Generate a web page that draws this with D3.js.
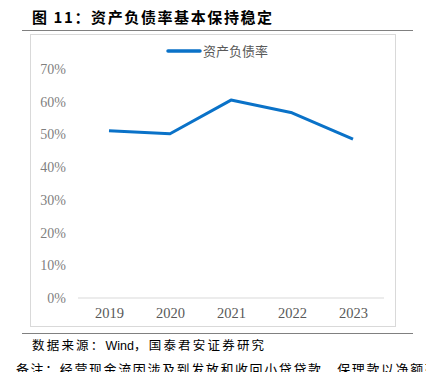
<!DOCTYPE html>
<html>
<head>
<meta charset="utf-8">
<script src="https://cdn.jsdelivr.net/npm/d3@7"></script>
<style>
  body { margin: 0; background: #fff; }
  svg { display: block; }
</style>
</head>
<body>
<script>
// data
var years = ["2019", "2020", "2021", "2022", "2023"];
var debtRatio = [0.511, 0.502, 0.605, 0.566, 0.486];
var yTicks = [0, 0.1, 0.2, 0.3, 0.4, 0.5, 0.6, 0.7];
var seriesName = "资产负债率";

var W = 426, H = 372;
var serif = "'Liberation Serif'";
var cjk = "'Noto Sans CJK SC'";

var svg = d3.select("body").append("svg")
  .attr("width", W)
  .attr("height", H);

// title
svg.append("text")
  .attr("x", 32)
  .attr("y", 23)
  .style("font-family", cjk)
  .style("font-weight", "bold")
  .style("font-size", "15px")
  .style("letter-spacing", "1.6px")
  .attr("fill", "#000")
  .text("图 11：资产负债率基本保持稳定");

svg.append("line")
  .attr("x1", 22).attr("x2", 413)
  .attr("y1", 30.5).attr("y2", 30.5)
  .attr("stroke", "#808080").attr("stroke-width", 1);

// chart frame
svg.append("rect")
  .attr("x", 30.5).attr("y", 34.5)
  .attr("width", 365).attr("height", 292)
  .attr("fill", "none")
  .attr("stroke", "#d9d9d9");

// scales
var x = d3.scalePoint()
  .domain(years)
  .range([109, 353]);

var y = d3.scaleLinear()
  .domain([0, 0.7])
  .range([298, 69]);

// y axis labels
var yAxis = svg.append("g")
  .attr("transform", "translate(66,0)")
  .call(d3.axisLeft(y).tickValues(yTicks).tickFormat(d3.format(".0%")).tickSize(0).tickPadding(0));
yAxis.select(".domain").remove();
yAxis.attr("font-family", null).attr("font-size", null);
yAxis.selectAll("text")
  .style("font-family", serif)
  .style("font-size", "14px")
  .attr("fill", "#7f7f7f");

// baseline
svg.append("line")
  .attr("x1", 78).attr("x2", 384)
  .attr("y1", y(0)).attr("y2", y(0))
  .attr("stroke", "#d9d9d9").attr("stroke-width", 1);

// x axis labels
var xAxis = svg.append("g")
  .attr("transform", "translate(0," + (y(0) + 10) + ")")
  .call(d3.axisBottom(x).tickSize(0).tickPadding(0));
xAxis.select(".domain").remove();
xAxis.attr("font-family", null).attr("font-size", null);
xAxis.selectAll("text")
  .attr("dy", "0.71em")
  .style("font-family", serif)
  .style("font-size", "14.5px")
  .attr("fill", "#595959");

// line
var line = d3.line()
  .x(function(d, i) { return x(years[i]); })
  .y(function(d) { return y(d); });

svg.append("path")
  .datum(debtRatio)
  .attr("d", line)
  .attr("fill", "none")
  .attr("stroke", "#0a72c8")
  .attr("stroke-width", 3)
  .attr("stroke-linejoin", "round");

// legend
svg.append("line")
  .attr("x1", 168).attr("x2", 200)
  .attr("y1", 51).attr("y2", 51)
  .attr("stroke", "#0a72c8").attr("stroke-width", 3.5)
  .attr("stroke-linecap", "round");
svg.append("text")
  .attr("x", 203)
  .attr("y", 56)
  .style("font-family", cjk)
  .style("font-size", "13px")
  .attr("fill", "#595959")
  .text(seriesName);

// bottom rule
svg.append("line")
  .attr("x1", 22).attr("x2", 413)
  .attr("y1", 333.5).attr("y2", 333.5)
  .attr("stroke", "#808080").attr("stroke-width", 1);

// source
var src = svg.append("text")
  .attr("x", 32)
  .attr("y", 350)
  .style("font-family", cjk)
  .style("font-size", "12.5px")
  .style("letter-spacing", "2.2px")
  .attr("fill", "#000");
src.append("tspan").text("数据来源：");
src.append("tspan").style("font-family", "'Liberation Sans'").style("letter-spacing", "0px").text("Wind");
src.append("tspan").text("，国泰君安证券研究");

// note (cut off at bottom like the source page)
svg.append("text")
  .attr("x", 16)
  .attr("y", 374)
  .style("font-family", cjk)
  .style("font-size", "13px")
  .style("letter-spacing", "1.6px")
  .attr("fill", "#000")
  .text("备注：经营现金流因涉及到发放和收回小贷贷款，保理款以净额列示");
</script>
</body>
</html>
